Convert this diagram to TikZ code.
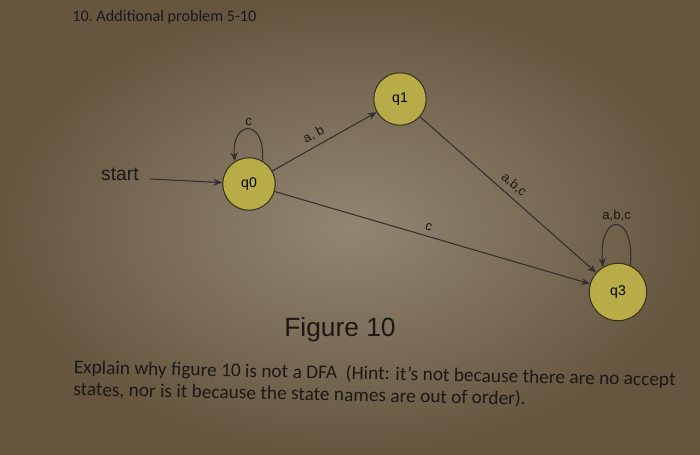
\documentclass[tikz,border=0pt]{standalone}
\usepackage{fontspec}
\setmainfont{Carlito}
\newfontfamily\arialfont{Liberation Sans}
\usetikzlibrary{arrows.meta}
\definecolor{paperdark}{RGB}{102,86,64}
\definecolor{paperlight}{RGB}{146,134,114}
\definecolor{ink}{RGB}{28,24,22}
\definecolor{statefill}{RGB}{184,172,72}
\definecolor{stateline}{RGB}{58,52,28}
\begin{document}
\begin{tikzpicture}[>={Stealth[length=5pt,width=4pt]},
		state/.style={circle,draw=stateline,fill=statefill,line width=0.6pt,inner sep=0pt,minimum size=1.05cm,font=\arialfont\fontsize{8}{9}\selectfont},
		trans/.style={draw=ink!90,line width=0.6pt,->},
		lbl/.style={font=\arialfont\fontsize{7.5}{8}\selectfont,text=ink,inner sep=3pt}]
				% page
				\shade[inner color=paperlight,outer color=paperdark] (0,0) rectangle (14,9.08);
				\useasboundingbox (0,0) rectangle (14,9.08);

				\node[anchor=west,text=ink,inner sep=0pt,font=\fontsize{9.2}{11}\selectfont] (title) at (1.44,8.74) {10.\ Additional problem 5-10};

				% states
				\node[state] (q0) at (4.98,5.40) {q0};
				\node[state] (q1) at (8.00,7.10) {q1};
				\node[state,minimum size=1.15cm] (q3) at (12.36,3.24) {q3};
				\node[text=ink,font=\arialfont\fontsize{11}{13}\selectfont] (start) at (2.40,5.60) {start};

				\draw[trans] (start.east) ++(0.1,-0.1) coordinate (s0) (s0) -- (q0);
				\draw[trans] (q0.60) .. controls +(85:0.85) and +(95:0.85) .. node[lbl,above,inner sep=2pt] {c} (q0.122);
				\draw[trans] (q0) -- node[lbl,sloped,above,pos=0.45] {a, b} (q1);
				\draw[trans] (q1) -- node[lbl,sloped,above,pos=0.49] {a,b,c} (q3);
				\draw[trans] (q0) -- node[lbl,sloped,above,pos=0.48] {c} (q3);
				\draw[trans] (q3.65) .. controls +(85:1.1) and +(95:1.1) .. node[lbl,above,inner sep=2pt] {a,b,c} (q3.121);

				% caption
				\node[text=ink,font=\arialfont\fontsize{15}{18}\selectfont] (fig) at (6.8,2.48) {Figure 10};
				\node[anchor=north west,text=ink,align=left,rotate=-1.2,font=\fontsize{11}{12.5}\selectfont] (ques) at (1.36,2.02)
					{Explain why figure 10 is not a DFA\ \ (Hint: it's not because there are no accept\\ states, nor is it because the state names are out of order).};
			\end{tikzpicture}
\end{document}
